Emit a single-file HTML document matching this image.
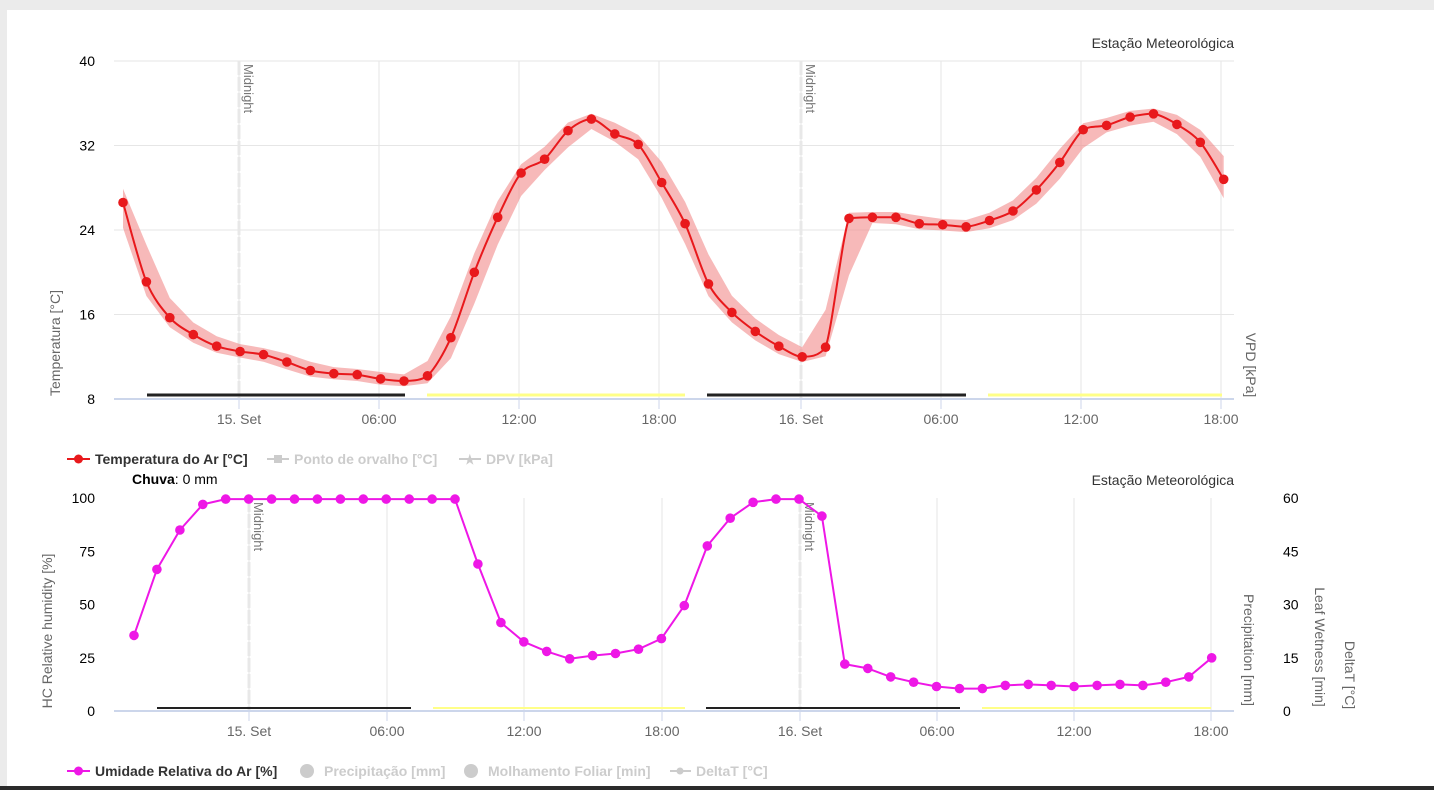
<!DOCTYPE html>
<html><head><meta charset="utf-8"><style>
html,body{margin:0;padding:0;background:#ebebeb;width:1434px;height:790px;overflow:hidden}
svg{display:block}
text{font-family:"Liberation Sans",Arial,sans-serif}
</style></head><body>
<svg id="s" width="1434" height="790" xmlns="http://www.w3.org/2000/svg">
<rect x="7" y="10" width="1427" height="777" fill="#fff"/>
<rect x="0" y="786" width="1434" height="4" fill="#2b2b2b"/>
<g id="g"></g>
<text x="1234" y="48" text-anchor="end" font-size="14" fill="#333">Estação Meteorológica</text>
<text x="1234" y="485" text-anchor="end" font-size="14" fill="#333">Estação Meteorológica</text>
<text x="132" y="484" font-size="14" fill="#000"><tspan font-weight="bold">Chuva</tspan>: 0 mm</text>
<g font-size="14" font-weight="bold">
<line x1="67" y1="459" x2="90" y2="459" stroke="#e8191c" stroke-width="2"/><circle cx="78.5" cy="459" r="4.5" fill="#e8191c"/>
<text x="95" y="464" fill="#333">Temperatura do Ar [°C]</text>
<line x1="267" y1="459" x2="289" y2="459" stroke="#ccc" stroke-width="2"/><rect x="274" y="455" width="8" height="8" fill="#ccc"/>
<text x="294" y="464" fill="#ccc">Ponto de orvalho [°C]</text>
<line x1="459" y1="459" x2="481" y2="459" stroke="#ccc" stroke-width="2"/><text x="464" y="464" fill="#ccc" font-size="13">★</text>
<text x="486" y="464" fill="#ccc">DPV [kPa]</text>
<line x1="67" y1="771" x2="90" y2="771" stroke="#ee17e6" stroke-width="2"/><circle cx="78.5" cy="771" r="4.5" fill="#ee17e6"/>
<text x="95" y="776" fill="#333">Umidade Relativa do Ar [%]</text>
<circle cx="307" cy="771" r="7" fill="#ccc"/><text x="324" y="776" fill="#ccc">Precipitação [mm]</text>
<circle cx="471" cy="771" r="7" fill="#ccc"/><text x="488" y="776" fill="#ccc">Molhamento Foliar [min]</text>
<line x1="670" y1="771" x2="691" y2="771" stroke="#ccc" stroke-width="2"/><circle cx="680" cy="771" r="3.5" fill="#ccc"/>
<text x="696" y="776" fill="#ccc">DeltaT [°C]</text>
</g>
</svg>
<script>
var g=document.getElementById('g'),h='';
function L(x1,y1,x2,y2,c,w,extra){h+='<line x1="'+x1+'" y1="'+y1+'" x2="'+x2+'" y2="'+y2+'" stroke="'+c+'" stroke-width="'+(w||1)+'" '+(extra||'')+'/>';}
function T(x,y,t,o){h+='<text x="'+x+'" y="'+y+'" '+(o||'')+'>'+t+'</text>';}
function cl(v,a,b){var lo=Math.min(a,b),hi=Math.max(a,b);return Math.max(lo,Math.min(hi,v));}
function smooth(p){var d='M'+p[0][0].toFixed(1)+','+p[0][1].toFixed(1);for(var i=0;i<p.length-1;i++){var p0=p[Math.max(0,i-1)],p1=p[i],p2=p[i+1],p3=p[Math.min(p.length-1,i+2)];var k=0.15;
var c1y=cl(p1[1]+(p2[1]-p0[1])*k,p1[1],p2[1]),c2y=cl(p2[1]-(p3[1]-p1[1])*k,p1[1],p2[1]);
d+=' C'+(p1[0]+(p2[0]-p0[0])*k).toFixed(1)+','+c1y.toFixed(1)+' '+(p2[0]-(p3[0]-p1[0])*k).toFixed(1)+','+c2y.toFixed(1)+' '+p2[0].toFixed(1)+','+p2[1].toFixed(1);}return d;}
// TOP
var yt=function(v){return 399-(v-8)*10.5625};
[40,32,24,16].forEach(function(v){L(114,yt(v),1234,yt(v),'#e6e6e6');});
[8,16,24,32,40].forEach(function(v){T(95,yt(v)+5,v,'text-anchor="end" font-size="14" fill="#000"');});
var tx=[239,379,519,659,801,941,1081,1221],tl=['15. Set','06:00','12:00','18:00','16. Set','06:00','12:00','18:00'];
tx.forEach(function(x,i){L(x,61,x,399,'#e6e6e6');L(x,399,x,409,'#ccd6eb');T(x,424,tl[i],'text-anchor="middle" font-size="14" fill="#666"');});
[239,801].forEach(function(x){L(x,61,x,399,'#e8e8e8',3,'stroke-dasharray="14,2"');T(0,0,'Midnight','font-size="13" fill="#777" transform="translate('+(x+5)+',64) rotate(90)"');});
L(147,395,405,395,'#222',3);L(427,395,685,395,'#ffff88',3);L(707,395,966,395,'#222',3);L(988,395,1222,395,'#ffff88',3);
L(114,399,1234,399,'#ccd6eb',2);
T(0,0,'Temperatura [°C]','font-size="14" fill="#666" text-anchor="middle" transform="translate(60,343) rotate(-90)"');
T(0,0,'VPD [kPa]','font-size="14" fill="#666" text-anchor="middle" transform="translate(1246,365) rotate(90)"');
var t=[26.6,19.1,15.7,14.1,13.0,12.5,12.2,11.5,10.7,10.4,10.3,9.9,9.7,10.2,13.8,20.0,25.2,29.4,30.7,33.4,34.5,33.1,32.1,28.5,24.6,18.9,16.2,14.4,13.0,12.0,12.9,25.1,25.2,25.2,24.6,24.5,24.3,24.9,25.8,27.8,30.4,33.5,33.9,34.7,35.0,34.0,32.3,28.8];
var up=[],lo=[],pts=[];
for(var i=0;i<t.length;i++){var x=123+i*23.42;var b=t[i];var a=i>0?(t[i-1]*0.4+b*0.6):b;var c=i<t.length-1?(t[i+1]*0.25+b*0.75):b;
var hi=Math.max(a,b,c)+0.5,l=Math.min(a,b,c)-0.5;if(i==0){hi=b+1.3;l=b-2.4;}if(i==t.length-1){hi=b+2.2;l=b-1.8;}
up.push(x.toFixed(1)+','+yt(hi).toFixed(1));lo.unshift(x.toFixed(1)+','+yt(l).toFixed(1));pts.push([x,yt(b)]);}
h+='<polygon points="'+up.join(' ')+' '+lo.join(' ')+'" fill="#f08080" fill-opacity="0.55"/>';
h+='<path d="'+smooth(pts)+'" fill="none" stroke="#e8191c" stroke-width="2"/>';
pts.forEach(function(p){h+='<circle cx="'+p[0].toFixed(1)+'" cy="'+p[1].toFixed(1)+'" r="4.8" fill="#e8191c"/>';});
// BOTTOM
var yb=function(v){return 711-v*2.13};
var bx=[249,387,524,662,800,937,1074,1211];
bx.forEach(function(x,i){L(x,498,x,711,'#e6e6e6');L(x,711,x,721,'#ccd6eb');T(x,736,tl[i],'text-anchor="middle" font-size="14" fill="#666"');});
[249,800].forEach(function(x){L(x,498,x,711,'#e8e8e8',3,'stroke-dasharray="14,2"');T(0,0,'Midnight','font-size="13" fill="#777" transform="translate('+(x+5)+',502) rotate(90)"');});
[0,25,50,75,100].forEach(function(v){T(95,yb(v)+5,v,'text-anchor="end" font-size="14" fill="#000"');});
[0,15,30,45,60].forEach(function(v,i){T(1283,yb(i*25)+5,v,'font-size="14" fill="#000"');});
L(157,708,411,708,'#222',2);L(433,708,685,708,'#ffff88',2);L(706,708,960,708,'#222',2);L(982,708,1211,708,'#ffff88',2);
L(114,711,1234,711,'#ccd6eb',2);
T(0,0,'HC Relative humidity [%]','font-size="14" fill="#666" text-anchor="middle" transform="translate(52,631) rotate(-90)"');
T(0,0,'Precipitation [mm]','font-size="14" fill="#666" text-anchor="middle" transform="translate(1244,650) rotate(90)"');
T(0,0,'Leaf Wetness [min]','font-size="14" fill="#666" text-anchor="middle" transform="translate(1315,647) rotate(90)"');
T(0,0,'DeltaT [°C]','font-size="14" fill="#666" text-anchor="middle" transform="translate(1345,675) rotate(90)"');
var u=[35.5,66.5,85,97,99.5,99.5,99.5,99.5,99.5,99.5,99.5,99.5,99.5,99.5,99.5,69,41.5,32.5,28,24.5,26,27,29,34,49.5,77.5,90.5,98,99.5,99.5,91.5,22,20,16,13.5,11.5,10.5,10.5,12,12.5,12,11.5,12,12.5,12,13.5,16,25];
var bp=u.map(function(v,i){return [134+i*22.93,yb(v)]});
h+='<polyline points="'+bp.map(function(p){return p[0].toFixed(1)+','+p[1].toFixed(1)}).join(' ')+'" fill="none" stroke="#ee17e6" stroke-width="2" stroke-linejoin="round"/>';
bp.forEach(function(p){h+='<circle cx="'+p[0].toFixed(1)+'" cy="'+p[1].toFixed(1)+'" r="4.8" fill="#ee17e6"/>';});
g.innerHTML=h;
</script>
</body></html>
